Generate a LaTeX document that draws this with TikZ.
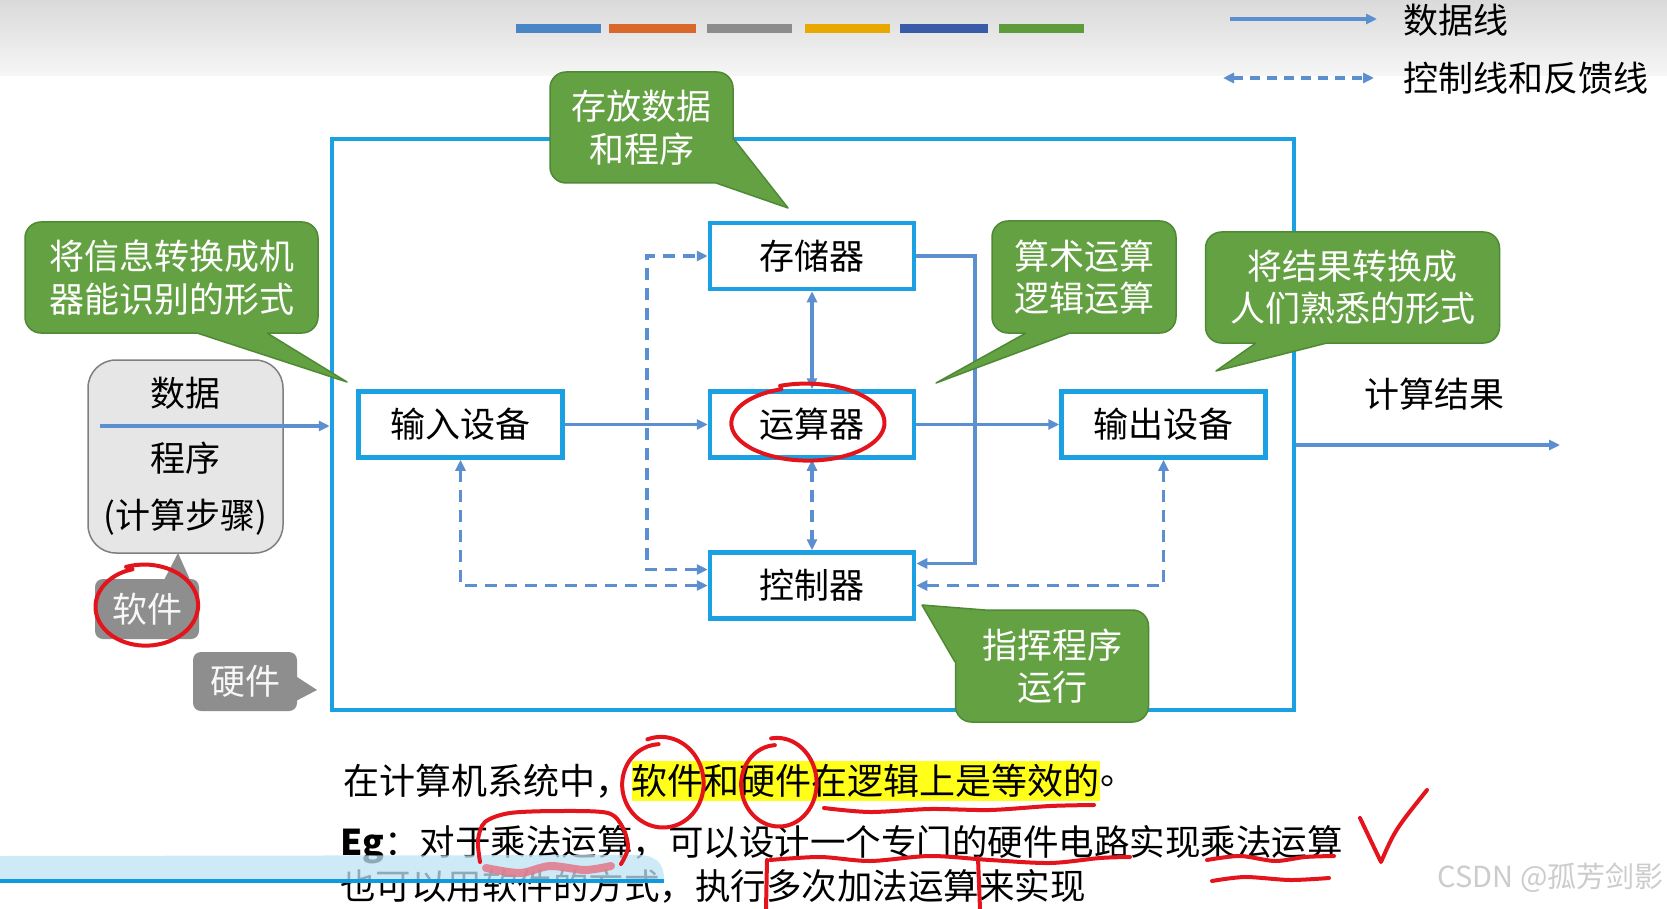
\documentclass[tikz,border=0pt]{standalone}
\usepackage{fontspec}
\setmainfont{Noto Sans CJK SC}
\usetikzlibrary{arrows.meta,calc}
\definecolor{frameblue}{HTML}{1BA1E2}
\definecolor{linkblue}{HTML}{5B8FD0}
\definecolor{cgreen}{HTML}{64A142}
\definecolor{cgreenb}{HTML}{4E8A34}
\definecolor{dgrayf}{HTML}{E6E6E6}
\definecolor{dgrayb}{HTML}{7F7F7F}
\definecolor{lgray}{HTML}{8E8E8E}
\definecolor{penred}{HTML}{E3141C}
\definecolor{penpink}{HTML}{E2788A}
\definecolor{hiyellow}{HTML}{FFFF1A}
\definecolor{barA}{HTML}{4A86C5}
\definecolor{barB}{HTML}{D9692B}
\definecolor{barC}{HTML}{8C8C8C}
\definecolor{barD}{HTML}{E8A800}
\definecolor{barE}{HTML}{3A5CA8}
\definecolor{barF}{HTML}{5E9B3A}
\definecolor{vidlight}{HTML}{BFE3F5}
\definecolor{vidline}{HTML}{0F9AE0}
\tikzset{
  fbig/.style={font=\fontsize{35}{42.5}\selectfont},
  ftext/.style={font=\fontsize{36}{43}\selectfont},
  ftextb/.style={font=\fontsize{35.5}{43}\selectfont},
  unitbox/.style={draw=frameblue, line width=4.5pt, fill=white, minimum width=204pt, minimum height=66pt, inner sep=0pt, fbig},
  callout/.style={fill=cgreen, draw=cgreenb, line width=1.5pt, rounded corners=16pt, text=white, align=center, inner sep=0pt, fbig},
  tailline/.style={draw=cgreenb, line width=1.5pt, line join=round},
  glabel/.style={fill=lgray, rounded corners=8pt, text=gray!6, inner sep=0pt, fbig},
  link/.style={draw=linkblue, line width=3.2pt, -{Triangle[length=11pt,width=10pt]}},
  dlink/.style={link, dash pattern=on 12pt off 8pt},
  twoway/.style={{Triangle[length=11pt,width=10pt]}-{Triangle[length=11pt,width=10pt]}},
  pen/.style={draw=penred, line width=4pt, line cap=round, line join=round},
  plain/.style={inner sep=0pt, fbig},
}
\begin{document}
\begin{tikzpicture}[x=1pt,y=-1pt]
\useasboundingbox (0,0) rectangle (1667,909);
% background
\fill[white] (0,0) rectangle (1667,909);
\shade[top color=gray!29, bottom color=gray!7] (0,0) rectangle (1667,76);
% colour bars
\fill[barA] (516,24) rectangle (601,33);
\fill[barB] (609,24) rectangle (696,33);
\fill[barC] (707,24) rectangle (792,33);
\fill[barD] (805,24) rectangle (890,33);
\fill[barE] (900,24) rectangle (988,33);
\fill[barF] (999,24) rectangle (1084,33);
% legend
\coordinate (lga) at (1230,19);
\coordinate (lgb) at (1377,19);
\coordinate (lgc) at (1223,78);
\coordinate (lgd) at (1374,78);
\draw[link] (lga) -- (lgb);
\draw[dlink, twoway, dash pattern=on 10pt off 7pt] (lgc) -- (lgd);
\node[plain, anchor=west] (lgt1) at (1403,20) {数据线};
\node[plain, anchor=west] (lgt2) at (1403,78) {控制线和反馈线};

% main frame
\node[draw=frameblue, line width=4.5pt, minimum width=962pt, minimum height=571pt, inner sep=0pt] (frame) at (813,424.5) {};

% data / program box
\node[fill=dgrayf, draw=dgrayb, line width=1.5pt, rounded corners=28pt, minimum width=195pt, minimum height=193pt] (dbox) at (185.5,456.5) {};
\node[plain] (dt1) at (185.5,393) {数据};
\node[plain] (dt2) at (185.5,458) {程序};
\node[plain] (dt3) at (185.5,517) {(计算步骤)};

% unit boxes
\node[unitbox] (mem) at (812,256) {存储器};
\node[unitbox] (inp) at (460.5,424.5) {输入设备};
\node[unitbox] (alu) at (812,424.5) {运算器};
\node[unitbox] (out) at (1163.5,424.5) {输出设备};
\node[unitbox] (ctl) at (812,585.5) {控制器};

% connectors
\coordinate (dstart) at (100,426);
\draw[link] (dstart) -- (dstart -| frame.west);
\draw[link] (inp.east) -- (alu.west);
\draw[link] (alu.east) -- (out.west);
\draw[link, twoway] (mem.south) -- (alu.north);
\draw[dlink, twoway] (alu.south) -- (ctl.north);
\coordinate (mr) at (975,256);
\draw[link] (mem.east) -- (mr) |- ($(ctl.east)+(0,-22)$);
\draw[dlink, twoway] (inp.south) |- (ctl.west);
\draw[dlink, twoway] (out.south) |- (ctl.east);
\coordinate (lb) at (647,569.5);
\coordinate (lt) at (647,256);
\draw[dlink, twoway] ($(ctl.west)+(0,-16)$) -- (lb) -- (lt) -- (mem.west);
\coordinate (res) at (1560,445);
\draw[link] (res -| frame.east) -- (res);
\node[plain] (restext) at (1434,394) {计算结果};

% callout A
\node[callout, minimum width=183pt, minimum height=111pt] (cA) at (641.5,127.5) {存放数据\\和程序};
\fill[cgreen] (716,183) -- (788,208) -- (733,138) -- cycle;
\draw[tailline] (716,183) -- (788,208) -- (733,138);
% callout B
\node[callout, minimum width=293pt, minimum height=111pt] (cB) at (171.5,277.5) {将信息转换成机\\器能识别的形式};
\fill[cgreen] (197,330) -- (197,333) -- (347,382) -- (267,333) -- (267,330) -- cycle;
\draw[tailline] (197,333) -- (347,382) -- (267,333);
% callout C
\node[callout, minimum width=184pt, minimum height=112pt] (cC) at (1084,277) {算术运算\\逻辑运算};
\fill[cgreen] (1026,330) -- (1026,333) -- (936,383) -- (1070,333) -- (1070,330) -- cycle;
\draw[tailline] (1026,333) -- (936,383) -- (1070,333);
% callout D
\node[callout, minimum width=294pt, minimum height=111pt] (cD) at (1352.5,287.5) {将结果转换成\\人们熟悉的形式};
\fill[cgreen] (1256,340) -- (1256,343) -- (1216,371) -- (1327,343) -- (1327,340) -- cycle;
\draw[tailline] (1256,343) -- (1216,371) -- (1327,343);
% callout E
\node[callout, minimum width=193pt, minimum height=112pt] (cE) at (1052,666) {指挥程序\\运行};
\fill[cgreen] (955,662) -- (922,605) -- (985,610) -- cycle;
\draw[tailline] (955,662) -- (922,605) -- (985,610);

% grey labels
\node[glabel, minimum width=104pt, minimum height=60pt] (sw) at (147,609) {软件};
\fill[lgray] (163,582) -- (178,553) -- (191,582) -- cycle;
\node[glabel, minimum width=104pt, minimum height=59pt] (hw) at (245,681.5) {硬件};
\fill[lgray] (294,675) -- (317,690) -- (294,702) -- cycle;

% bottom text
\node[inner sep=0pt, ftext, anchor=west] (t1a) at (343,781) {在计算机系统中，};
\node[inner sep=0pt, ftext, anchor=west, fill=hiyellow, inner ysep=3pt] (t1b) at (t1a.east) {软件和硬件在逻辑上是等效的};
\node[inner sep=0pt, ftext, anchor=west] (t1c) at (t1b.east) {。};
\node[inner sep=0pt, ftextb, anchor=west] (t2) at (340,845) {\textbf{Eg}：对于乘法运算，可以设计一个专门的硬件电路实现乘法运算};
\node[inner sep=0pt, ftextb, anchor=west] (t3) at (340,886) {也可以用软件的方式，执行多次加法运算来实现};

% video bar
\fill[vidlight, opacity=0.75] (0,856) -- (640,855) .. controls (660,856) and (664,868) .. (664,879) -- (0,880) -- cycle;
\draw[vidline, line width=4pt] (0,881) -- (664,881);

% watermark
\node[inner sep=0pt, anchor=east, text=gray!40, font=\fontsize{29}{34}\selectfont] (wm) at (1664,878) {CSDN @孤芳剑影};

% red pen marks
\draw[pen] plot[smooth, samples=45, domain=105:470] ({145+(48+0.02*(\x-105))*cos(\x)}, {606-(38+0.01*(\x-105))*sin(\x)});
\draw[pen] plot[smooth, samples=45, domain=110:470] ({807+(75+0.01*(\x-110))*cos(\x)}, {423-(36+0.01*(\x-110))*sin(\x)});
\draw[pen] plot[smooth, samples=45, domain=95:470] ({662+(39+0.01*(\x-95))*cos(\x)}, {784-(40+0.02*(\x-95))*sin(\x)});
\draw[pen] plot[smooth, samples=45, domain=95:460] ({778+(36+0.01*(\x-95))*cos(\x)}, {784-(39+0.02*(\x-95))*sin(\x)});
\draw[pen] plot[smooth] coordinates {(824,808) (870,812) (930,809) (990,810) (1050,806) (1094,805)};
\draw[pen] plot[smooth] coordinates {(480,862) (478,840) (485,822) (510,813) (560,811) (608,813) (623,828) (628,848) (621,864)};
\draw[penpink, line width=8pt, line cap=round, opacity=0.85] plot[smooth] coordinates {(486,868) (520,873) (550,866) (585,870) (611,866)};
\draw[pen] plot[smooth] coordinates {(770,860) (820,857) (870,861) (930,856) (990,860) (1050,863) (1100,858) (1130,857)};
\draw[pen] (767,860) -- (766,909);
\draw[pen] (978,858) -- (980,909);
\draw[pen] plot[smooth] coordinates {(1207,860) (1240,856) (1275,861) (1305,857) (1334,856)};
\draw[pen] plot[smooth] coordinates {(1212,881) (1245,877) (1290,880) (1329,878)};
\draw[pen] (1360,818) -- (1381,862) .. controls (1395,830) .. (1427,790);
\end{tikzpicture}
\end{document}
